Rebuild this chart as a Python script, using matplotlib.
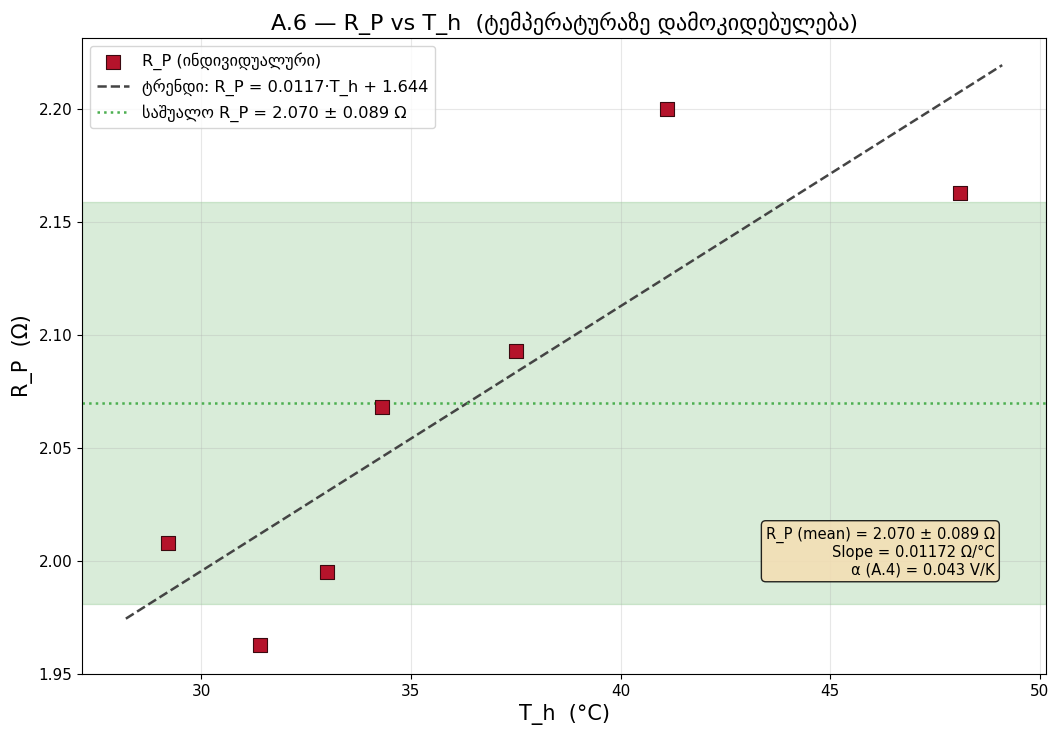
import numpy as np
import matplotlib.pyplot as plt

# მონაცემები (A.6)
T_h = [29.2, 31.4, 33.0, 34.3, 37.5, 41.1, 48.1]
R_P = [2.008, 1.963, 1.995, 2.068, 2.093, 2.200, 2.163]

slope = 0.01172
intercept = 1.644
R_mean = 2.070
R_std = 0.089
alpha_A4 = 0.043

fig, ax = plt.subplots(figsize=(10.52, 7.29), dpi=100)
fig.subplots_adjust(left=0.078, right=0.9943, top=0.948, bottom=0.0754)

ax.axhspan(R_mean - R_std, R_mean + R_std, color='green', alpha=0.15)
ax.scatter(T_h, R_P, marker='s', s=100, color='#b5132b', edgecolors='#3a0a10',
           linewidths=0.8, zorder=3, label='R_P (ინდივიდუალური)')

x_fit = np.linspace(min(T_h) - 1, max(T_h) + 1, 100)
ax.plot(x_fit, slope * x_fit + intercept, '--', color='#444444', lw=1.8,
        label=f'ტრენდი: R_P = {slope:.4f}·T_h + {intercept:.3f}')
ax.axhline(R_mean, color='#4caf50', ls=':', lw=1.8,
           label=f'საშუალო R_P = {R_mean:.3f} ± {R_std:.3f} Ω')

ax.set_ylim(1.95, 2.2315)
ax.set_xlabel('T_h  (°C)', fontsize=15)
ax.set_ylabel('R_P  (Ω)', fontsize=15)
ax.set_title('A.6 — R_P vs T_h  (ტემპერატურაზე დამოკიდებულება)', fontsize=16)
ax.tick_params(labelsize=11)
ax.grid(True, alpha=0.3)
ax.legend(loc='upper left', fontsize=11.7)

txt = (f'R_P (mean) = {R_mean:.3f} ± {R_std:.3f} Ω\n'
       f'Slope = {slope:.5f} Ω/°C\n'
       f'α (A.4) = {alpha_A4:.3f} V/K')
ax.text(0.947, 0.152, txt, transform=ax.transAxes, ha='right', va='bottom',
        fontsize=10.6, bbox=dict(boxstyle='round', facecolor='wheat', alpha=0.85))

plt.savefig('out.png', dpi=100)
